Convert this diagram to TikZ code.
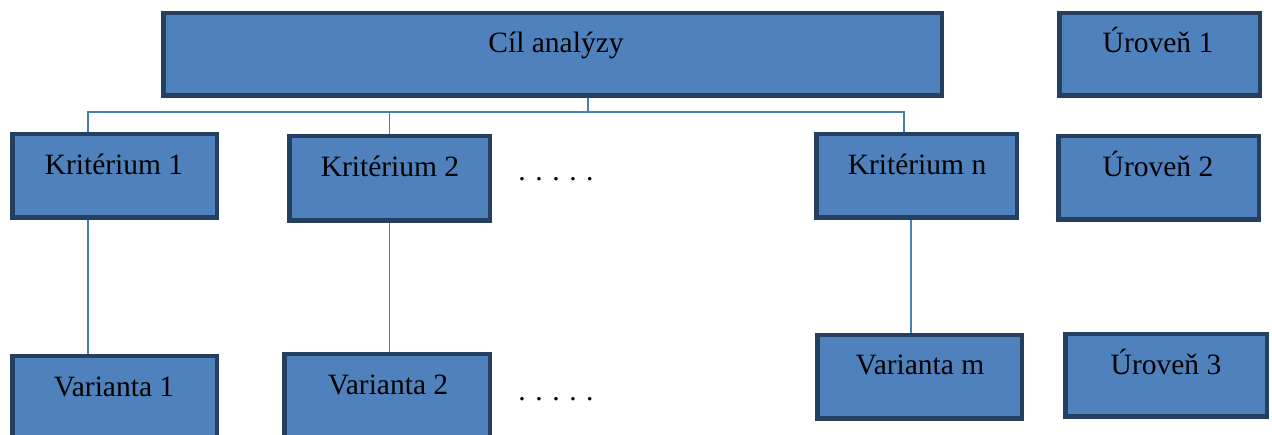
\documentclass[tikz,border=0pt]{standalone}
\usepackage{fontspec}
\setmainfont{Liberation Serif}
\definecolor{boxfill}{HTML}{4F81BD}
\definecolor{boxedge}{HTML}{243F60}
\definecolor{linkblue}{HTML}{4A7EBB}
\newcommand{\fivedots}{.\hskip9.6pt.\hskip9.6pt.\hskip9.6pt.\hskip9.6pt.}
\begin{document}
\begin{tikzpicture}[x=1pt,y=-1pt,
  box/.style={draw=boxedge, fill=boxfill, line width=4.5pt, rectangle, inner sep=0pt},
  lbl/.style={anchor=base, inner sep=0pt, font=\fontsize{29.5}{35}\selectfont},
  conn/.style={draw=linkblue, line width=1.5pt}]
\useasboundingbox (0,0) rectangle (1272,435);
\clip (0,0) rectangle (1272,435);

% boxes: minimum size = outer size minus the border width
\node[box, minimum width=778.5pt, minimum height=82.5pt] (cil) at (552.5,54.5) {};
\node[box, minimum width=204.5pt, minimum height=83.5pt] (k1) at (114.5,176) {};
\node[box, minimum width=200.5pt, minimum height=84.5pt] (k2) at (389.5,178.5) {};
\node[box, minimum width=200.5pt, minimum height=83.5pt] (kn) at (916.5,176) {};
\node[box, minimum width=200.5pt, minimum height=82.5pt] (u1) at (1159.5,54.5) {};
\node[box, minimum width=200.5pt, minimum height=83.5pt] (u2) at (1158.5,178) {};
\node[box, minimum width=204.5pt, minimum height=83.5pt] (v1) at (114.5,398) {};
\node[box, minimum width=205.5pt, minimum height=83.5pt] (v2) at (387,396) {};
\node[box, minimum width=204.5pt, minimum height=83.5pt] (vm) at (919.5,377) {};
\node[box, minimum width=201.5pt, minimum height=82.5pt] (u3) at (1166,375.5) {};

% labels
\node[lbl] (cilt) at (556,53) {Cíl analýzy};
\node[lbl] (k1t) at (114,175) {Kritérium 1};
\node[lbl] (k2t) at (390,177) {Kritérium 2};
\node[lbl] (knt) at (917,175) {Kritérium n};
\node[lbl] (u1t) at (1158,53) {Úroveň 1};
\node[lbl] (u2t) at (1158,177) {Úroveň 2};
\node[lbl] (v1t) at (114,397) {Varianta 1};
\node[lbl] (v2t) at (388,395) {Varianta 2};
\node[lbl] (vmt) at (920,375) {Varianta m};
\node[lbl] (u3t) at (1166,375) {Úroveň 3};
\node[lbl] (dots1) at (556,181) {\fivedots};
\node[lbl] (dots2) at (556,401) {\fivedots};

% connectors
\coordinate (bus) at (588,112);
\draw[conn] (cil.south -| bus) -- (bus);
\draw[conn] ([xshift=-26.5pt]k1.north) |- ([xshift=-12.5pt]kn.north |- bus)
  -- ([xshift=-12.5pt]kn.north);
\draw[conn] (k2.north) -- (k2.north |- bus);
\draw[conn] ([xshift=-26.5pt]k1.south) -- ([xshift=-26.5pt]k1.south |- v1.north);
\draw[conn] (k2.south) -- (k2.south |- v2.north);
\draw[conn] ([xshift=-5.5pt]kn.south) -- ([xshift=-5.5pt]kn.south |- vm.north);
\end{tikzpicture}
\end{document}
